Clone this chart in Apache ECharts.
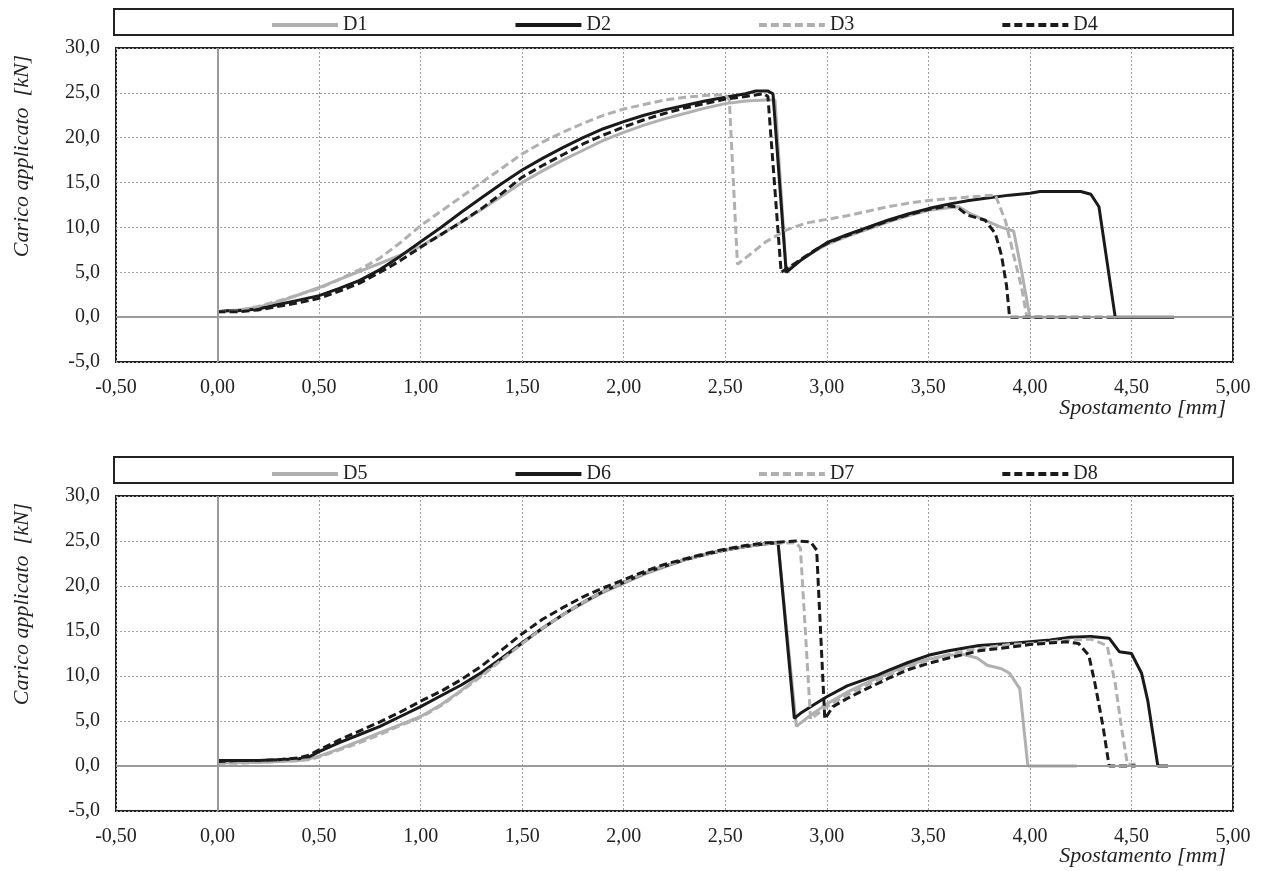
<!DOCTYPE html>
<html>
<head>
<meta charset="utf-8">
<script src="https://cdn.jsdelivr.net/npm/echarts@6/dist/echarts.min.js"></script>
<style>
  html, body { margin: 0; padding: 0; background: #fff; }
  #chart { width: 1263px; height: 871px; }
</style>
</head>
<body>
<div id="chart"></div>
<script>
// curve data [spostamento mm, carico kN]
var D1 = [[0.00,0.6],[0.05,0.7],[0.10,0.8],[0.20,1.1],[0.30,1.7],[0.40,2.5],[0.50,3.3],[0.60,4.2],[0.70,5.1],[0.80,6.0],[0.90,6.9],[1.00,7.9],[1.10,9.2],[1.20,10.6],[1.30,12.0],[1.40,13.5],[1.50,15.0],[1.60,16.3],[1.70,17.5],[1.80,18.6],[1.90,19.7],[2.00,20.6],[2.10,21.4],[2.20,22.1],[2.30,22.7],[2.40,23.3],[2.50,23.8],[2.60,24.1],[2.70,24.2],[2.745,24.2],[2.80,5.2],[2.85,6.0],[2.90,6.8],[3.00,8.1],[3.10,9.0],[3.20,9.8],[3.30,10.6],[3.40,11.3],[3.50,11.9],[3.60,12.2],[3.65,12.3],[3.70,11.6],[3.80,10.6],[3.86,10.0],[3.92,9.6],[3.96,5.0],[4.00,0.0],[4.20,0.0]];
var D2 = [[0.00,0.6],[0.05,0.7],[0.10,0.7],[0.20,0.9],[0.30,1.4],[0.40,1.9],[0.50,2.4],[0.60,3.2],[0.70,4.1],[0.80,5.3],[0.90,6.8],[1.00,8.4],[1.10,10.0],[1.20,11.7],[1.30,13.3],[1.40,14.9],[1.50,16.4],[1.60,17.7],[1.70,18.9],[1.80,20.0],[1.90,21.0],[2.00,21.8],[2.10,22.5],[2.20,23.1],[2.30,23.6],[2.40,24.1],[2.50,24.5],[2.60,24.9],[2.65,25.2],[2.71,25.2],[2.735,24.9],[2.80,5.0],[2.87,6.3],[2.96,7.7],[3.00,8.3],[3.10,9.2],[3.20,10.0],[3.30,10.8],[3.40,11.5],[3.50,12.1],[3.60,12.6],[3.70,13.0],[3.80,13.3],[3.90,13.6],[4.00,13.8],[4.05,14.0],[4.25,14.0],[4.30,13.7],[4.34,12.3],[4.42,0.0],[4.71,0.0]];
var D3 = [[0.00,0.6],[0.10,0.7],[0.20,1.2],[0.30,1.8],[0.40,2.5],[0.50,3.2],[0.60,4.2],[0.70,5.3],[0.80,6.6],[0.90,8.3],[1.00,10.2],[1.10,11.8],[1.20,13.4],[1.30,15.0],[1.40,16.6],[1.50,18.2],[1.60,19.5],[1.70,20.6],[1.80,21.6],[1.90,22.5],[2.00,23.2],[2.10,23.7],[2.20,24.2],[2.30,24.5],[2.40,24.7],[2.50,24.8],[2.52,24.2],[2.56,5.9],[2.60,6.6],[2.70,8.4],[2.80,9.7],[2.90,10.5],[3.00,10.9],[3.10,11.3],[3.20,11.8],[3.30,12.3],[3.40,12.7],[3.50,13.0],[3.60,13.2],[3.70,13.4],[3.83,13.6],[3.88,10.7],[3.92,6.9],[3.96,3.2],[3.985,0.0],[4.19,0.0]];
var D4 = [[0.00,0.6],[0.10,0.6],[0.20,0.8],[0.30,1.2],[0.40,1.6],[0.50,2.1],[0.60,2.9],[0.70,3.8],[0.80,5.0],[0.90,6.3],[1.00,7.8],[1.10,9.2],[1.20,10.6],[1.30,12.1],[1.40,13.8],[1.50,15.6],[1.60,16.9],[1.70,18.1],[1.80,19.3],[1.90,20.3],[2.00,21.2],[2.10,22.0],[2.20,22.7],[2.30,23.3],[2.40,23.8],[2.50,24.3],[2.60,24.6],[2.69,24.9],[2.71,24.6],[2.775,5.0],[2.85,6.1],[2.95,7.6],[3.00,8.2],[3.10,9.1],[3.20,9.9],[3.30,10.7],[3.40,11.4],[3.50,12.0],[3.60,12.4],[3.64,12.3],[3.69,11.4],[3.78,10.8],[3.83,9.3],[3.86,6.9],[3.885,3.5],[3.90,0.0],[4.42,0.0]];

var D5 = [[0.00,0.3],[0.10,0.4],[0.20,0.4],[0.30,0.5],[0.40,0.6],[0.45,0.8],[0.50,1.1],[0.60,1.9],[0.70,2.8],[0.80,3.7],[0.90,4.6],[1.00,5.5],[1.10,6.8],[1.20,8.4],[1.30,10.2],[1.40,11.9],[1.50,13.6],[1.60,15.3],[1.70,16.8],[1.80,18.1],[1.90,19.3],[2.00,20.3],[2.10,21.3],[2.20,22.1],[2.30,22.9],[2.40,23.5],[2.50,24.0],[2.60,24.4],[2.70,24.7],[2.76,24.8],[2.85,4.4],[2.90,5.3],[3.00,6.9],[3.10,8.2],[3.20,9.3],[3.30,10.3],[3.40,11.2],[3.50,11.9],[3.60,12.3],[3.67,12.4],[3.74,12.0],[3.79,11.2],[3.86,10.8],[3.90,10.3],[3.95,8.6],[3.99,0.0],[4.23,0.0]];
var D6 = [[0.00,0.6],[0.10,0.6],[0.20,0.6],[0.30,0.7],[0.40,0.8],[0.45,1.0],[0.50,1.6],[0.60,2.6],[0.70,3.5],[0.80,4.4],[0.90,5.5],[1.00,6.6],[1.10,7.8],[1.20,9.0],[1.30,10.4],[1.40,12.0],[1.50,13.7],[1.60,15.3],[1.70,16.8],[1.80,18.2],[1.90,19.4],[2.00,20.4],[2.10,21.4],[2.20,22.2],[2.30,22.9],[2.40,23.5],[2.50,24.0],[2.60,24.4],[2.70,24.7],[2.76,24.8],[2.84,5.3],[2.87,5.85],[2.95,7.0],[3.00,7.7],[3.10,8.9],[3.20,9.7],[3.25,10.1],[3.30,10.6],[3.40,11.5],[3.50,12.3],[3.60,12.8],[3.75,13.4],[3.90,13.6],[4.00,13.8],[4.10,14.0],[4.20,14.3],[4.30,14.4],[4.39,14.2],[4.44,12.7],[4.50,12.5],[4.55,10.3],[4.58,7.3],[4.63,0.0],[4.68,0.0]];
var D7 = [[0.00,0.3],[0.10,0.3],[0.20,0.4],[0.30,0.5],[0.40,0.6],[0.45,0.7],[0.50,1.0],[0.60,1.8],[0.70,2.6],[0.80,3.5],[0.90,4.5],[1.00,5.4],[1.10,6.7],[1.20,8.3],[1.30,10.0],[1.40,11.8],[1.50,13.6],[1.60,15.3],[1.70,16.8],[1.80,18.2],[1.90,19.4],[2.00,20.4],[2.10,21.4],[2.20,22.2],[2.30,22.9],[2.40,23.5],[2.50,24.0],[2.60,24.4],[2.70,24.7],[2.85,24.8],[2.87,24.2],[2.92,5.2],[3.00,6.6],[3.10,7.9],[3.20,9.0],[3.30,10.0],[3.40,11.0],[3.50,11.8],[3.60,12.4],[3.70,12.9],[3.80,13.2],[3.90,13.5],[4.00,13.6],[4.10,13.8],[4.20,14.0],[4.30,14.1],[4.38,13.4],[4.42,9.2],[4.45,4.4],[4.48,0.2],[4.52,0.2]];
var D8 = [[0.00,0.5],[0.10,0.6],[0.20,0.6],[0.30,0.7],[0.40,0.9],[0.45,1.2],[0.50,1.8],[0.60,2.9],[0.70,3.9],[0.80,4.9],[0.90,6.0],[1.00,7.2],[1.10,8.3],[1.20,9.6],[1.30,11.1],[1.40,12.9],[1.50,14.7],[1.60,16.3],[1.70,17.6],[1.80,18.8],[1.90,19.8],[2.00,20.7],[2.10,21.6],[2.20,22.4],[2.30,23.0],[2.40,23.6],[2.50,24.1],[2.60,24.5],[2.70,24.8],[2.85,25.0],[2.92,24.9],[2.95,24.0],[2.99,5.2],[3.03,6.6],[3.10,7.5],[3.18,8.4],[3.30,9.7],[3.40,10.7],[3.50,11.4],[3.60,12.0],[3.75,12.8],[3.90,13.2],[4.00,13.5],[4.18,13.8],[4.24,13.6],[4.29,12.3],[4.32,9.2],[4.36,4.4],[4.39,0.0],[4.52,0.0]];

var namesTop = ['D1', 'D2', 'D3', 'D4'];
var namesBottom = ['D5', 'D6', 'D7', 'D8'];

var GRAY = '#b0b0b0';
var BLACK = '#1a1a1a';
var FONT = 'Liberation Serif';

function makeSeries(name, data, idx, color, dashed) {
	return {
		name: name,
		type: 'line',
		xAxisIndex: idx,
		yAxisIndex: idx,
		data: data,
		symbol: 'none',
		smooth: false,
		lineStyle: { color: color, width: 3, type: dashed ? [8, 4] : 'solid' },
		itemStyle: { color: color },
		z: 3
	};
}

function zeroLines(idx) {
	// assi per lo zero (linee grigie continue)
	return {
		type: 'line',
		xAxisIndex: idx,
		yAxisIndex: idx,
		data: [],
		z: 1,
		markLine: {
			silent: true,
			symbol: 'none',
			label: { show: false },
			lineStyle: { color: '#9a9a9a', width: 2, type: 'solid' },
			data: [{ xAxis: 0 }, { yAxis: 0 }]
		}
	};
}

function xAxisOpt(idx) {
	return {
		type: 'value', gridIndex: idx, min: -0.5, max: 5, interval: 0.5,
		axisLine: { show: false, onZero: false },
		axisTick: { show: false },
		axisLabel: {
			margin: 16, color: '#222', fontFamily: FONT, fontSize: 20,
			formatter: function (v) { return v.toFixed(2).replace('.', ','); }
		},
		splitLine: { show: true, lineStyle: { color: '#a0a0a0', width: 1, type: [2, 2] } }
	};
}

function yAxisOpt(idx) {
	return {
		type: 'value', gridIndex: idx, min: -5, max: 30, interval: 5,
		axisLine: { show: false, onZero: false },
		axisTick: { show: false },
		axisLabel: {
			margin: 16, color: '#222', fontFamily: FONT, fontSize: 20,
			formatter: function (v) { return v.toFixed(1).replace('.', ','); }
		},
		splitLine: { show: true, lineStyle: { color: '#a0a0a0', width: 1, type: [2, 2] } }
	};
}

function legendOpt(top, names) {
	return {
		data: names,
		left: 265,
		top: top,
		itemWidth: 66,
		itemHeight: 14,
		itemGap: 146,
		itemStyle: { opacity: 0 },
		lineStyle: { width: 4 },
		textStyle: { fontFamily: FONT, fontSize: 20, color: '#222' }
	};
}

function titleTexts(dy) {
	return [
		{
			type: 'text', x: 1226, y: 408 + dy,
			style: { text: 'Spostamento [mm]', align: 'right', verticalAlign: 'middle',
				font: 'italic 22px "Liberation Serif"', fill: '#222' }
		},
		{
			type: 'text', x: 22, y: 156 + dy, rotation: Math.PI / 2,
			style: { text: 'Carico applicato  [kN]', align: 'center', verticalAlign: 'middle',
				font: 'italic 22px "Liberation Serif"', fill: '#222' }
		},
		{
			type: 'rect', shape: { x: 114, y: 9 + dy, width: 1119, height: 26 },
			style: { fill: 'none', stroke: '#222', lineWidth: 2 }
		}
	];
}

var chart = echarts.init(document.getElementById('chart'));

var option = {
	backgroundColor: '#fff',
	animation: false,
	legend: [legendOpt(10, namesTop), legendOpt(459, namesBottom)],
	grid: [
		{ left: 116, right: 30, top: 48, height: 314, show: true, borderColor: '#222', borderWidth: 2 },
		{ left: 116, right: 30, top: 496, height: 315, show: true, borderColor: '#222', borderWidth: 2 }
	],
	xAxis: [xAxisOpt(0), xAxisOpt(1)],
	yAxis: [yAxisOpt(0), yAxisOpt(1)],
	graphic: titleTexts(0).concat(titleTexts(448)),
	series: [
		zeroLines(0),
		zeroLines(1),
		makeSeries('D1', D1, 0, GRAY, false),
		makeSeries('D2', D2, 0, BLACK, false),
		makeSeries('D3', D3, 0, GRAY, true),
		makeSeries('D4', D4, 0, BLACK, true),
		makeSeries('D5', D5, 1, GRAY, false),
		makeSeries('D6', D6, 1, BLACK, false),
		makeSeries('D7', D7, 1, GRAY, true),
		makeSeries('D8', D8, 1, BLACK, true)
	]
};

chart.setOption(option);
</script>
</body>
</html>
